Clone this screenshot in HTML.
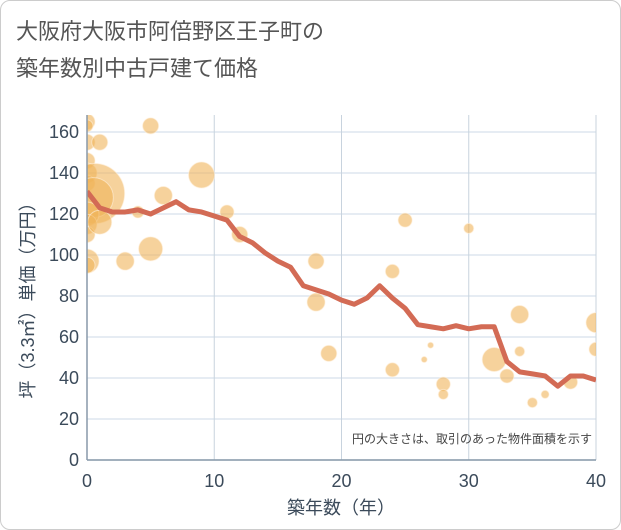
<!DOCTYPE html>
<html><head><meta charset="utf-8"><style>
body{margin:0;background:#fff;font-family:"Liberation Sans","Noto Sans CJK JP",sans-serif}
#card{position:absolute;left:0;top:0;width:619px;height:528px;border:1px solid #ccc;border-radius:10px;background:#fff}
</style></head><body>
<div id="card">
<svg id="c" width="621" height="530" style="position:absolute;left:-1px;top:-1px">
<text x="16" y="39" font-size="22" fill="#555">大阪府大阪市阿倍野区王子町の</text>
<text x="16" y="76" font-size="22" fill="#555">築年数別中古戸建て価格</text>
</svg></div>
<script>
const xTicks=[0,10,20,30,40];
const yTicks=[0,20,40,60,80,100,120,140,160];
const lineX=[0,1,2,3,4,5,6,7,8,9,10,11,12,13,14,15,16,17,18,19,20,21,22,23,24,25,26,27,28,29,30,31,32,33,34,35,36,37,38,39,40];
const lineY=[131,123,121,121,122,120,123,126,122,121,119,117,109,106,101,97,94,85,83,81,78,76,79,85,79,74,66,65,64,65.5,64,65,65,48,43,42,41,36,41,41,39];
const bubX=[0,0,0,0,0,0,0.6,0.5,0,0,0,0,0,1,1,3,4,5,5,6,9,11,12,18,18,19,24,24,25,26.5,27,28,28,30,32,33,34,34,35,36,38,40,40];
const bubY=[165,163,155,146,140,135,130,128,120,115,110,97,95,155,116,97,121,163,103,129,139,121,110,97,77,52,92,44,117,49,56,37,32,113,49,41,71,53,28,32,38,67,54];
const bubR=[8,6,8,8,10,8,30,20,12,10,8,12,8,8,12,9,6,8,12,9,13,7,8,8,9,8,7,7,7,3,3,7,5,5,12,7,9,5,5,4,7,10,7];
const svg=document.getElementById('c');const NS='http://www.w3.org/2000/svg';
const X0=87,X1=596,Y0=460,Y1=132;
const sx=v=>X0+(v-0)/40*(X1-X0), sy=v=>Y0-v/160*(Y0-Y1);
function mk(t,a,p){const e=document.createElementNS(NS,t);for(const k in a)e.setAttribute(k,a[k]);(p||svg).appendChild(e);return e;}
const cp=mk('clipPath',{id:'clip'});mk('rect',{x:X0,y:115,width:X1-X0,height:Y0-115},cp);
yTicks.forEach(v=>{const l=mk('line',{x1:X0,x2:X1,y1:sy(v),y2:sy(v),stroke:'#dde6ef','stroke-width':1.5});

const t=mk('text',{x:X0-8,y:sy(v)+6,'text-anchor':'end','font-size':18,fill:'#3b4a5a'});t.textContent=v;
});
xTicks.forEach(v=>{const l=mk('line',{x1:sx(v),x2:sx(v),y1:115,y2:Y0,stroke:'#c8d3de','stroke-width':1});

const t=mk('text',{x:sx(v),y:487,'text-anchor':'middle','font-size':18,fill:'#3b4a5a'});t.textContent=v;
});
const g=mk('g',{'clip-path':'url(#clip)'});
bubX.forEach((v,i)=>{const c=mk('circle',{cx:sx(v),cy:sy(bubY[i]),r:bubR[i],fill:'rgba(240,180,90,0.6)',stroke:'rgba(255,240,220,0.6)','stroke-width':1},g);
});
const pl=mk('polyline',{points:lineX.map((v,i)=>sx(v)+','+sy(lineY[i])).join(' '),fill:'none',stroke:'#d36b55','stroke-width':5,'stroke-linejoin':'round'},g);

const ax=mk('line',{x1:X0,x2:X0,y1:115,y2:Y0,stroke:'#8899aa','stroke-width':1.5});
const ax2=mk('line',{x1:X0,x2:X1,y1:Y0,y2:Y0,stroke:'#8899aa','stroke-width':1.5});
const n=mk('text',{x:592,y:443,'text-anchor':'end','font-size':12,fill:'#444'});n.textContent='円の大きさは、取引のあった物件面積を示す';

const xt=mk('text',{x:341,y:514,'text-anchor':'middle','font-size':18,fill:'#3b4a5a'});xt.textContent='築年数（年）';

const yt=mk('text',{x:0,y:0,'text-anchor':'middle','font-size':18,fill:'#3b4a5a',transform:'translate(34,296) rotate(-90)'});yt.textContent='坪（3.3㎡）単価（万円）';

</script></body></html>
